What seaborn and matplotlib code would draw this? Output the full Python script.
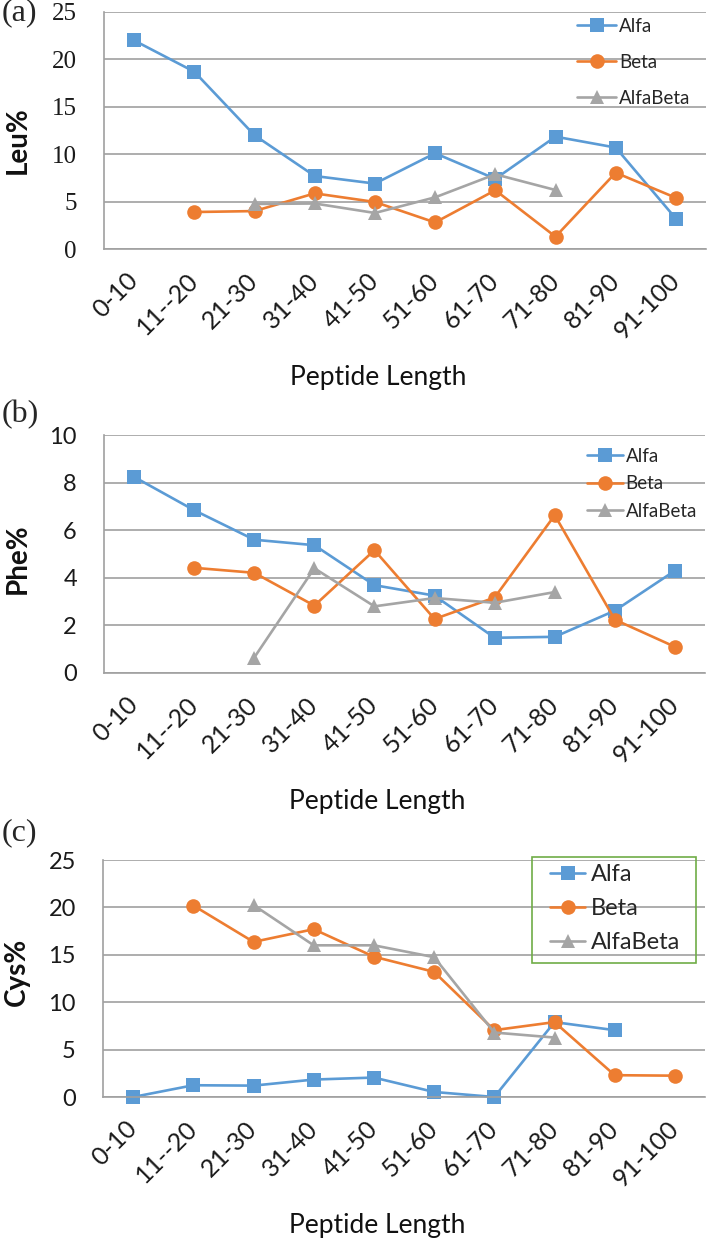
"""Leu / Phe / Cys content by peptide length (three stacked panels)."""

import numpy as np
import pandas as pd
import matplotlib

matplotlib.use("Agg")
import matplotlib.pyplot as plt
import seaborn as sns
from matplotlib.patches import Rectangle

categories = ["0-10", "11--20", "21-30", "31-40", "41-50",
              "51-60", "61-70", "71-80", "81-90", "91-100"]
series_names = ["Alfa", "Beta", "AlfaBeta"]
nan = np.nan

leu_alfa = [22.0, 18.7, 12.0, 7.7, 6.9, 10.1, 7.4, 11.85, 10.7, 3.2]
leu_beta = [nan, 3.9, 4.0, 5.87, 4.96, 2.8, 6.2, 1.3, 8.05, 5.4]
leu_alfabeta = [nan, nan, 4.75, 4.8, 3.8, 5.45, 7.88, 6.22, nan, nan]

phe_alfa = [8.24, 6.84, 5.6, 5.37, 3.69, 3.25, 1.48, 1.52, 2.62, 4.3]
phe_beta = [nan, 4.42, 4.21, 2.83, 5.16, 2.27, 3.17, 6.63, 2.24, 1.1]
phe_alfabeta = [nan, nan, 0.65, 4.4, 2.8, 3.15, 2.95, 3.4, nan, nan]

cys_alfa = [0.0, 1.24, 1.2, 1.84, 2.05, 0.53, 0.0, 7.9, 7.05, nan]
cys_beta = [nan, 20.2, 16.36, 17.7, 14.8, 13.2, 7.05, 7.9, 2.3, 2.25]
cys_alfabeta = [nan, nan, 20.25, 16.0, 16.0, 14.75, 6.8, 6.27, nan, nan]

palette = {"Alfa": "#5B9BD5", "Beta": "#ED7D31", "AlfaBeta": "#A5A5A5"}
markers = {"Alfa": "s", "Beta": "o", "AlfaBeta": "^"}
GRID = "#A0A0A0"
SANS = ["Lato", "DejaVu Sans"]
SERIF = ["Liberation Serif", "DejaVu Serif"]

W, H = 709, 1243


def to_frame(alfa, beta, alfabeta):
    rows = []
    for name, vals in zip(series_names, (alfa, beta, alfabeta)):
        for i, v in enumerate(vals):
            rows.append({"pos": i, "length": categories[i], "series": name, "value": v})
    return pd.DataFrame(rows).dropna()


def add_axes_px(fig, left, top, right, bottom):
    return fig.add_axes([left / W, 1 - bottom / H, (right - left) / W, (bottom - top) / H])


def draw_panel(ax, df, ylabel, ymax, ystep, tick_family, tick_size, ylab_y):
    sns.lineplot(data=df, x="pos", y="value", hue="series", style="series",
                 hue_order=series_names, style_order=series_names,
                 palette=palette, markers=markers, dashes=False,
                 markersize=10.5, markeredgewidth=0, linewidth=1.9,
                 errorbar=None, legend=False, ax=ax)
    for line in ax.lines:
        line.set_clip_on(False)

    ax.set_xlim(-0.5, len(categories) - 0.5)
    ax.set_ylim(0, ymax)
    ax.set_yticks(np.arange(0, ymax + 0.01, ystep))
    ax.yaxis.grid(True, color=GRID, linewidth=1.2)
    ax.xaxis.grid(False)
    ax.set_axisbelow(True)

    ax.set_xticks(range(len(categories)))
    ax.set_xticklabels(categories, rotation=45, ha="right", va="center",
                       rotation_mode="anchor", fontsize=18, family=SANS)
    ax.set_xticks(np.arange(-0.5, len(categories), 1), minor=True)
    ax.tick_params(axis="x", which="major", length=0, pad=20, colors="#1a1a1a")
    ax.tick_params(axis="x", which="minor", length=6.5, width=1.2, color=GRID, direction="out")
    ax.tick_params(axis="y", length=6.5, width=1.2, color=GRID, pad=13, direction="out",
                   labelcolor="#1a1a1a")
    for lab in ax.get_yticklabels():
        lab.set_family(tick_family)
        lab.set_fontsize(tick_size)

    for side in ("top", "right"):
        ax.spines[side].set_visible(False)
    for side in ("left", "bottom"):
        ax.spines[side].set_color(GRID)
        ax.spines[side].set_linewidth(1.2)

    ax.set_xlabel("Peptide Length", fontsize=19, va="center", family=SANS, color="#111111")
    ax.xaxis.set_label_coords((378 - 104) / 602, -128 / 237)
    ax.set_ylabel(ylabel, fontsize=20, fontweight="bold", va="center", family=SANS,
                  color="#111111")
    ax.yaxis.set_label_coords(-86 / 602, ylab_y)


sns.set_style("white")
plt.rcParams["font.family"] = SANS

fig = plt.figure(figsize=(W / 100, H / 100), dpi=100)

ax_a = add_axes_px(fig, 104, 12, 706, 249)
ax_b = add_axes_px(fig, 104, 435, 705, 673)
ax_c = add_axes_px(fig, 103, 860, 705, 1097)

draw_panel(ax_a, to_frame(leu_alfa, leu_beta, leu_alfabeta), "Leu%", 25, 5, SERIF, 18, 0.46)
draw_panel(ax_b, to_frame(phe_alfa, phe_beta, phe_alfabeta), "Phe%", 10, 2, SANS, 17, 0.48)
draw_panel(ax_c, to_frame(cys_alfa, cys_beta, cys_alfabeta), "Cys%", 25, 5, SANS, 17, 0.53)

# legends: (a) and (b) frameless, (c) with a green box
ax_a.legend(ax_a.lines[:3], series_names, loc="upper left", frameon=False,
            bbox_to_anchor=(577 / W, 1 - 18 / H), bbox_transform=fig.transFigure,
            borderpad=0, borderaxespad=0, handlelength=2.1, handletextpad=0.15,
            labelspacing=1.0, prop={"family": SANS, "size": 13.5})
ax_b.legend(ax_b.lines[:3], series_names, loc="upper left", frameon=False,
            bbox_to_anchor=(587 / W, 1 - 448 / H), bbox_transform=fig.transFigure,
            borderpad=0, borderaxespad=0, handlelength=1.9, handletextpad=0.15,
            labelspacing=0.55, prop={"family": SANS, "size": 13.5})
ax_c.legend(ax_c.lines[:3], series_names, loc="upper left", frameon=False,
            bbox_to_anchor=(550 / W, 1 - 864 / H), bbox_transform=fig.transFigure,
            borderpad=0, borderaxespad=0, handlelength=1.5, handletextpad=0.25,
            labelspacing=0.55, prop={"family": SANS, "size": 17})
fig.patches.append(Rectangle((532 / W, 1 - 963 / H), 164 / W, 106 / H,
                             transform=fig.transFigure, fill=False,
                             edgecolor="#70AD47", linewidth=1.2))

for label, y in (("(a)", 13), ("(b)", 415), ("(c)", 833)):
    fig.text(2 / W, 1 - y / H, label, family=SERIF, fontsize=23, va="center", ha="left")

fig.savefig("out.png", dpi=100)
